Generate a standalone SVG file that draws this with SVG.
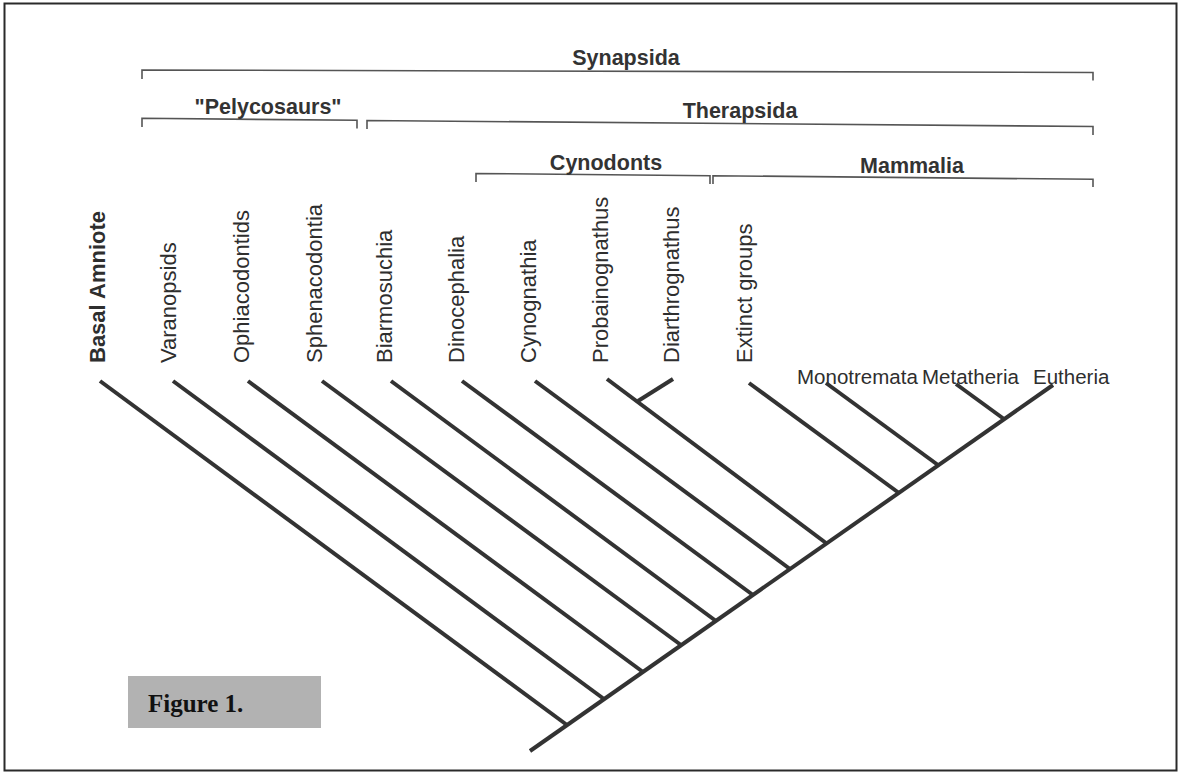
<svg xmlns="http://www.w3.org/2000/svg" width="1182" height="773" viewBox="0 0 1182 773">
<style>
.frame{fill:#fff;stroke:#2a2a2a;stroke-width:2}
.br{fill:none;stroke:#555;stroke-width:1.6}
.tr{fill:none;stroke:#333;stroke-width:4;stroke-linecap:butt}
.grp{font-family:"Liberation Sans",Arial,sans-serif;font-weight:bold;font-size:21.5px;fill:#333;text-anchor:middle}
.lab{font-family:"Liberation Sans",Arial,sans-serif;font-size:22px;fill:#2e2e2e}
.hl{font-family:"Liberation Sans",Arial,sans-serif;font-size:20.5px;fill:#2e2e2e}
.labb{font-family:"Liberation Sans",Arial,sans-serif;font-size:22px;font-weight:bold;fill:#2e2e2e}
.fig{font-family:"Liberation Serif","Times New Roman",serif;font-weight:bold;font-size:25px;fill:#111}
</style>
<rect class="frame" x="4.5" y="3.5" width="1172" height="767"/>
<g id="brackets">
<g id="synapsida"><path class="br" d="M142,79 V70 L1093,72.5 V80.5"/><text class="grp" x="626" y="65">Synapsida</text></g>
<g id="pelycosaurs"><path class="br" d="M142,127 V118.3 L357,120.3 V128.5"/><text class="grp" x="268" y="113.5">"Pelycosaurs"</text></g>
<g id="therapsida"><path class="br" d="M367,129 V120.5 L1093,126.5 V135"/><text class="grp" x="740" y="117.5">Therapsida</text></g>
<g id="cynodonts"><path class="br" d="M476,182 V173.5 L710,175.7 V184"/><text class="grp" x="606" y="169.5">Cynodonts</text></g>
<g id="mammalia"><path class="br" d="M713,184 V175.7 L1093,179.3 V187"/><text class="grp" x="912" y="172.5">Mammalia</text></g>
</g>
<g id="taxa">
<g id="basal-amniote"><text class="labb" transform="translate(105,363) rotate(-90)">Basal Amniote</text></g>
<g id="varanopsids"><text class="lab" transform="translate(176,363) rotate(-90)">Varanopsids</text></g>
<g id="ophiacodontids"><text class="lab" transform="translate(249,363) rotate(-90)">Ophiacodontids</text></g>
<g id="sphenacodontia"><text class="lab" transform="translate(322,363) rotate(-90)">Sphenacodontia</text></g>
<g id="biarmosuchia"><text class="lab" transform="translate(392,363) rotate(-90)">Biarmosuchia</text></g>
<g id="dinocephalia"><text class="lab" transform="translate(464,363) rotate(-90)">Dinocephalia</text></g>
<g id="cynognathia"><text class="lab" transform="translate(536,363) rotate(-90)">Cynognathia</text></g>
<g id="probainognathus"><text class="lab" transform="translate(608,363) rotate(-90)">Probainognathus</text></g>
<g id="diarthrognathus"><text class="lab" transform="translate(679,363) rotate(-90)">Diarthrognathus</text></g>
<g id="extinct-groups"><text class="lab" transform="translate(752,363) rotate(-90)">Extinct groups</text></g>
<g id="monotremata"><text class="hl" x="797" y="384">Monotremata</text></g>
<g id="metatheria"><text class="hl" x="922" y="384">Metatheria</text></g>
<g id="eutheria"><text class="hl" x="1033" y="384">Eutheria</text></g>
</g>
<g id="connectors">
<path class="tr" d="M530,751 L1053,385"/>
<path class="tr" d="M100,381 L567,725"/>
<path class="tr" d="M173,381 L604,699"/>
<path class="tr" d="M248,381 L643,672"/>
<path class="tr" d="M322,381 L681,645"/>
<path class="tr" d="M391,381 L716,621"/>
<path class="tr" d="M462,381 L753,595"/>
<path class="tr" d="M535,381 L790,569"/>
<path class="tr" d="M607,379 L826,543"/>
<path class="tr" d="M638,401 L673,379"/>
<path class="tr" d="M749,383 L899,493"/>
<path class="tr" d="M826,383 L938,465"/>
<path class="tr" d="M956,384 L1004,419"/>
</g>
<g id="figure-label">
<rect x="128" y="676" width="193" height="52" fill="#b2b2b2"/>
<text class="fig" x="148" y="712">Figure 1.</text>
</g>
</svg>
